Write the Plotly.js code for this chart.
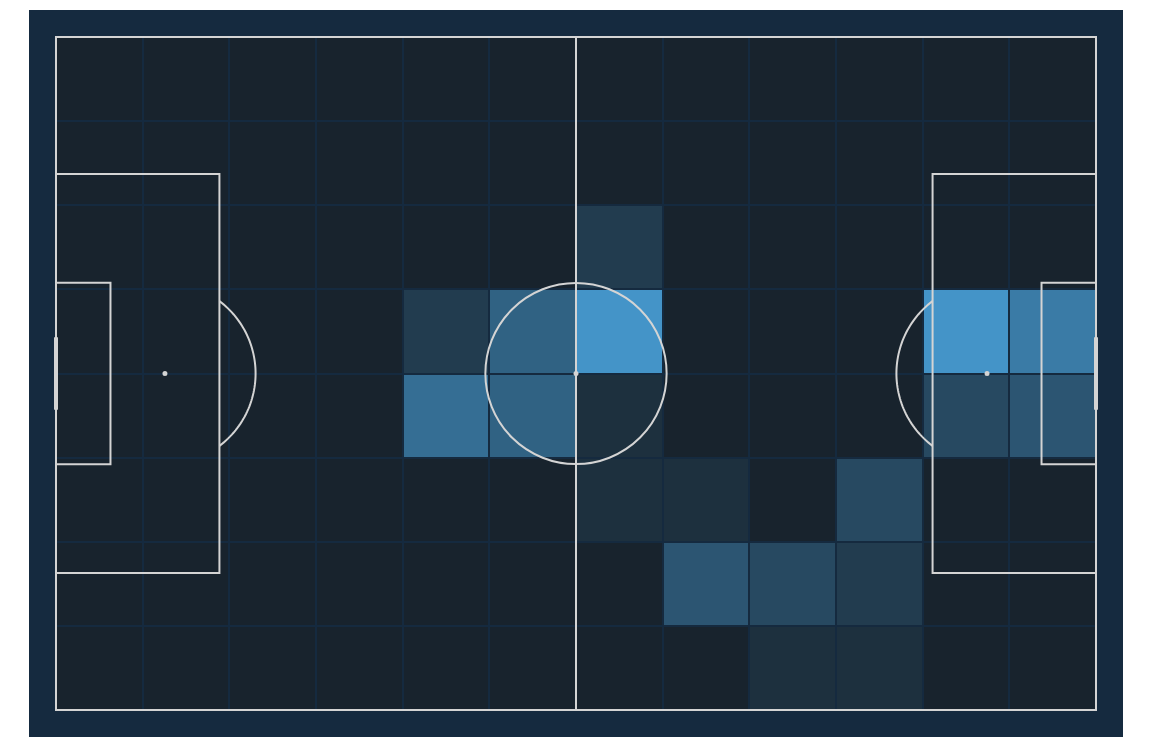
<!DOCTYPE html>
<html>
<head>
<meta charset="utf-8">
<script src="https://cdn.plot.ly/plotly-3.0.1.min.js"></script>
<style>html,body{margin:0;padding:0;background:#fff;}#chart{width:1152px;height:748px;}</style>
</head>
<body>
<div id="chart"></div>
<script>
// Pitch dimensions (metres)
const pitchLength = 105;
const pitchWidth = 68;
const nColumns = 12;
const nRows = 8;

// Event counts per zone, rows listed from the top edge of the pitch to the bottom
const row1 = [0,0,0,0,0,0,0,0,0,0,0,0];
const row2 = [0,0,0,0,0,0,0,0,0,0,0,0];
const row3 = [0,0,0,0,0,0,2,0,0,0,0,0];
const row4 = [0,0,0,0,2,5,9,0,0,0,9,7];
const row5 = [0,0,0,0,6,5,1,0,0,0,3,4];
const row6 = [0,0,0,0,0,0,1,1,0,3,0,0];
const row7 = [0,0,0,0,0,0,0,4,3,2,0,0];
const row8 = [0,0,0,0,0,0,0,0,1,1,0,0];

const rowsTopDown = [row1,row2,row3,row4,row5,row6,row7,row8];
const z = rowsTopDown.slice().reverse();
const xEdges = Array.from({length:nColumns+1},(_,i)=>i*pitchLength/nColumns);
const yEdges = Array.from({length:nRows+1},(_,i)=>i*pitchWidth/nRows);

const bgOuter = '#152a3f';
const pitchColor = '#18232d';
const lineColor = '#d4d4d4';
const padX = 2.726, padY = 2.728;

const heat = {
  type:'heatmap', x:xEdges, y:yEdges, z:z,
  zmin:0, zmax:9,
  colorscale:[[0,pitchColor],[1,'#4494c8']],
  showscale:false, xgap:2, ygap:2, hoverinfo:'skip'
};

const L = {color:lineColor, width:2};
const shapes = [];
function line(x0,y0,x1,y1,w){shapes.push({type:'line',x0,y0,x1,y1,line:{color:lineColor,width:w||2},layer:'above'});}
function rect(x0,y0,x1,y1){shapes.push({type:'rect',x0,y0,x1,y1,line:L,layer:'above'});}
function spot(x,y){shapes.push({type:'circle',xsizemode:'pixel',ysizemode:'pixel',xanchor:x,yanchor:y,x0:-2.5,x1:2.5,y0:-2.5,y1:2.5,fillcolor:lineColor,line:{width:0},layer:'above'});}

const cy = pitchWidth/2;
rect(0,0,pitchLength,pitchWidth);
line(pitchLength/2,0,pitchLength/2,pitchWidth);
// penalty areas
rect(0,cy-20.16,16.5,cy+20.16);
rect(pitchLength-16.5,cy-20.16,pitchLength,cy+20.16);
// six-yard boxes
rect(0,cy-9.16,5.5,cy+9.16);
rect(pitchLength-5.5,cy-9.16,pitchLength,cy+9.16);
// goals
line(0,cy-3.66,0,cy+3.66,4);
line(pitchLength,cy-3.66,pitchLength,cy+3.66,4);
// centre circle
const r = 9.15;
shapes.push({type:'circle',x0:pitchLength/2-r,x1:pitchLength/2+r,y0:cy-r,y1:cy+r,line:L,layer:'above'});
spot(pitchLength/2,cy);
spot(11,cy);
spot(pitchLength-11,cy);
// penalty arcs
function arc(cx,dir){
  const a = Math.acos(5.5/r);
  let p='';
  const n=60;
  for(let i=0;i<=n;i++){
    const t=-a+2*a*i/n;
    const x=cx+dir*r*Math.cos(t), y=cy+r*Math.sin(t);
    p += (i?' L ':'M ')+x.toFixed(4)+','+y.toFixed(4);
  }
  shapes.push({type:'path',path:p,line:L,layer:'above'});
}
arc(11,1);
arc(pitchLength-11,-1);

const layout = {
  width:1152, height:748,
  margin:{l:29,r:29,t:10,b:11,pad:0},
  paper_bgcolor:'#ffffff', plot_bgcolor:bgOuter,
  xaxis:{range:[-padX,pitchLength+padX],visible:false,showgrid:false,zeroline:false,fixedrange:true},
  yaxis:{range:[-padY,pitchWidth+padY],visible:false,showgrid:false,zeroline:false,fixedrange:true},
  shapes:shapes,
  showlegend:false
};
Plotly.newPlot('chart',[heat],layout,{displayModeBar:false,staticPlot:true});
</script>
</body>
</html>
